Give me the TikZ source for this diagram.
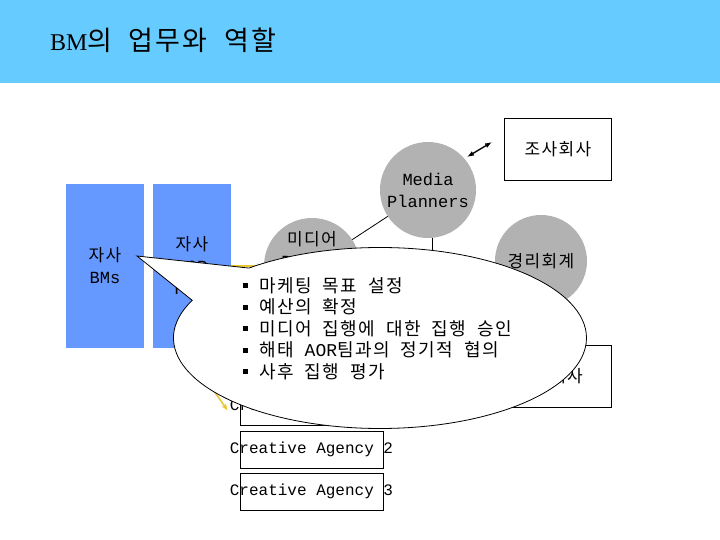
\documentclass[tikz,border=0pt]{standalone}
\usepackage{fontspec}
\usetikzlibrary{positioning,arrows.meta,shapes.geometric,shapes.callouts}
\setmainfont{Liberation Serif}
\newfontfamily\kr[LetterSpace=8,WordSpace=2]{Noto Sans CJK KR}
\newfontfamily\mono{Liberation Mono}
\definecolor{bmCielo}{HTML}{66CCFF}
\definecolor{bmAzul}{HTML}{6699FF}
\definecolor{bmGris}{HTML}{B2B2B2}
\definecolor{bmAmarillo}{HTML}{E8C832}
\newcommand{\punto}{\raisebox{4pt}{\rule{5pt}{5pt}}\hspace{11pt}}
\tikzset{
  equipo/.style={rectangle, fill=bmAzul, minimum width=78pt, minimum height=163pt,
    inner sep=0pt, align=center, font=\kr\fontsize{17}{22}\selectfont},
  grupo/.style={circle, fill=bmGris, minimum size=96pt, inner sep=0pt,
    align=center, font=\kr\fontsize{17}{22}\selectfont},
  socio/.style={rectangle, draw, line width=0.8pt, minimum width=107pt,
    minimum height=62pt, inner sep=0pt, font=\kr\fontsize{17}{22}\selectfont},
  agencia/.style={rectangle, draw, line width=0.8pt, minimum width=143pt,
    minimum height=37pt, inner sep=0pt},
  rotulo/.style={align=center, inner sep=0pt, font=\kr\fontsize{17}{22}\selectfont},
  enlace/.style={-, line width=0.8pt},
  flechaDoble/.style={{Latex[length=7pt,width=5pt]}-{Latex[length=7pt,width=5pt]}, line width=1.3pt},
  flechaAm/.style={-{Stealth[length=7pt]}, bmAmarillo, line width=1.6pt},
  globo/.style={ellipse callout, draw, fill=white, line width=0.8pt,
    minimum width=413pt, minimum height=181pt, inner sep=0pt, callout pointer arc=26},
}

\begin{document}
\begin{tikzpicture}[x=1pt,y=-1pt]
  \useasboundingbox (0,0) rectangle (720,540);
  % barra de titulo
  \fill[bmCielo] (0,0) rectangle (720,83);
  \node[anchor=west, inner sep=0pt, font=\fontsize{24}{28}\selectfont] (titulo) at (50,40)
    {BM{\kr\fontsize{27}{30}\selectfont 의 업무와 역할}};

  % equipos y grupos
  \node[equipo] (bms) at (105,266) {자사\\{\mono BMs}};
  \node[equipo] (aor) at (192,266) {자사\\{\mono AOR}\\{\mono Team}};
  \node[grupo] (mp) at (428,190) {\mono Media\\\mono Planners};
  \node[grupo] (mdb) at (312,266) {};
  \node[rotulo] (mdbTxt) at (312,251) {미디어\\{\mono Buyers}};
  \node[grupo, minimum size=92pt] (gr) at (541,261) {경리회계};
  \node[socio] (jo) at (558,149) {조사회사};
  \node[socio] (me) at (558,376) {매체사};

  \node[agencia] (ca1) at (311.5,406.5) {};
  \node[agencia] (ca2) at (311.5,449.5) {};
  \node[agencia] (ca3) at (311.5,491.5) {};
  \node[font=\mono\fontsize{16}{18}\selectfont] (ca1Txt) at (ca1) {Creative Agency 1};
  \node[font=\mono\fontsize{16}{18}\selectfont] (ca2Txt) at (ca2) {Creative Agency 2};
  \node[font=\mono\fontsize{16}{18}\selectfont] (ca3Txt) at (ca3) {Creative Agency 3};

  % conexiones
  \coordinate (a1) at (467,157);
  \coordinate (a2) at (492,142);
  \coordinate (bajada) at (432,300);
  \coordinate (punta) at (137,256);
  \draw[flechaDoble] (a1) -- (a2);
  \draw[enlace] (mp) -- (mdb);
  \draw[enlace] ([xshift=4pt]mp.south) -- (bajada);
  \draw[flechaAm] (aor.east) -- (mdb.west);
  \draw[flechaAm] ([xshift=-8pt]aor.south) -- ([xshift=-12pt,yshift=-4pt]ca1.west);

  % globo
  \node[globo, callout absolute pointer={(punta)}] (nota) at (380,338) {};
  \node[anchor=north west, align=left, inner sep=0pt,
    font=\kr\fontsize{18}{21.5}\selectfont] (tareas) at (243,277)
    {\punto 마케팅 목표 설정\\
     \punto 예산의 확정\\
     \punto 미디어 집행에 대한 집행 승인\\
     \punto 해태 {\mono AOR}팀과의 정기적 협의\\
     \punto 사후 집행 평가};
\end{tikzpicture}
\end{document}
